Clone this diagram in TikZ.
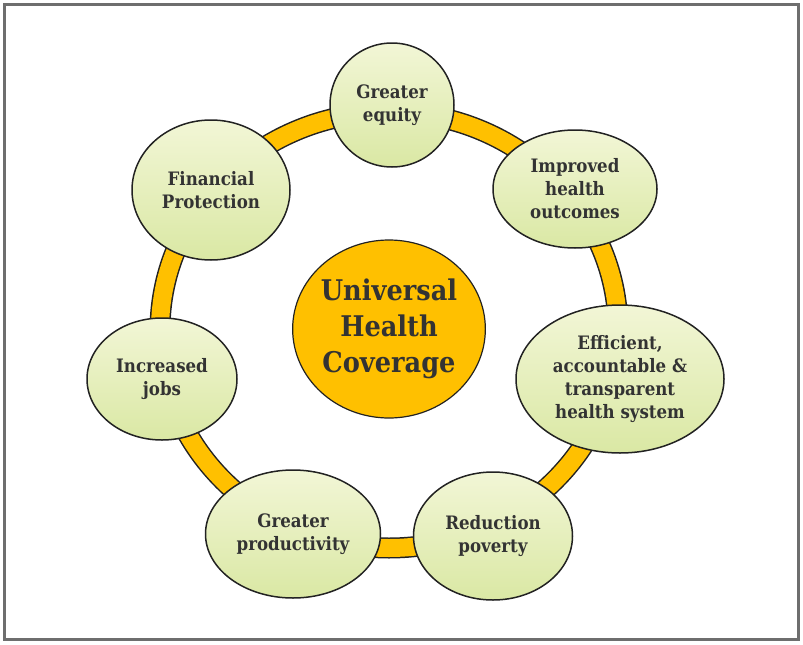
\documentclass[tikz,border=0pt]{standalone}
\usepackage{fontspec}
\setmainfont{DejaVu Serif Condensed}
\usepackage{xcolor}
\usetikzlibrary{shapes.geometric}
\definecolor{uhcGold}{RGB}{255,192,0}
\definecolor{uhcInk}{RGB}{34,34,34}
\definecolor{uhcText}{RGB}{51,51,51}
\definecolor{uhcLeafTop}{RGB}{242,246,214}
\definecolor{uhcLeafBot}{RGB}{218,232,164}
\definecolor{uhcFrame}{RGB}{110,110,110}
\tikzset{
  leaf/.style={ellipse, draw=uhcInk, line width=1.5pt, top color=uhcLeafTop,
    bottom color=uhcLeafBot, text=uhcText, align=center, inner sep=0pt,
    font=\fontsize{18.5}{23}\selectfont\bfseries},
  hub/.style={ellipse, draw=uhcInk, line width=1.2pt, fill=uhcGold, text=uhcText,
    align=center, inner sep=0pt, minimum width=184pt, minimum height=178pt,
    font=\fontsize{28.5}{36}\selectfont\bfseries}
}
\begin{document}
\begin{tikzpicture}[x=1pt,y=-1pt]
\useasboundingbox (0,0) rectangle (803,645);
\draw[uhcFrame, line width=3pt] (4.5,4.5) rectangle (798,639.5);
% ring behind the outcomes
\coordinate (ringc) at (389,330);
\draw[uhcInk, line width=21pt] (ringc) ellipse (229 and 218);
\draw[uhcGold, line width=18pt] (ringc) ellipse (229 and 218);
\node[hub] (uhc) at (389,329) {Universal\\Health\\Coverage};
\node[leaf, minimum width=124pt, minimum height=124pt] (equity) at (392,105) {Greater\\equity};
\node[leaf, minimum width=164pt, minimum height=118pt] (outcomes) at (575,189) {Improved\\health\\outcomes};
\node[leaf, minimum width=208pt, minimum height=148pt] (system) at (620,379) {Efficient,\\accountable \&\\transparent\\health system};
\node[leaf, minimum width=159pt, minimum height=128pt] (poverty) at (493,536) {Reduction\\poverty};
\node[leaf, minimum width=175pt, minimum height=128pt] (productivity) at (293,534) {Greater\\productivity};
\node[leaf, minimum width=150pt, minimum height=122pt] (jobs) at (162,379) {Increased\\jobs};
\node[leaf, minimum width=158pt, minimum height=140pt] (protection) at (211,190) {Financial\\Protection};
\end{tikzpicture}
\end{document}
